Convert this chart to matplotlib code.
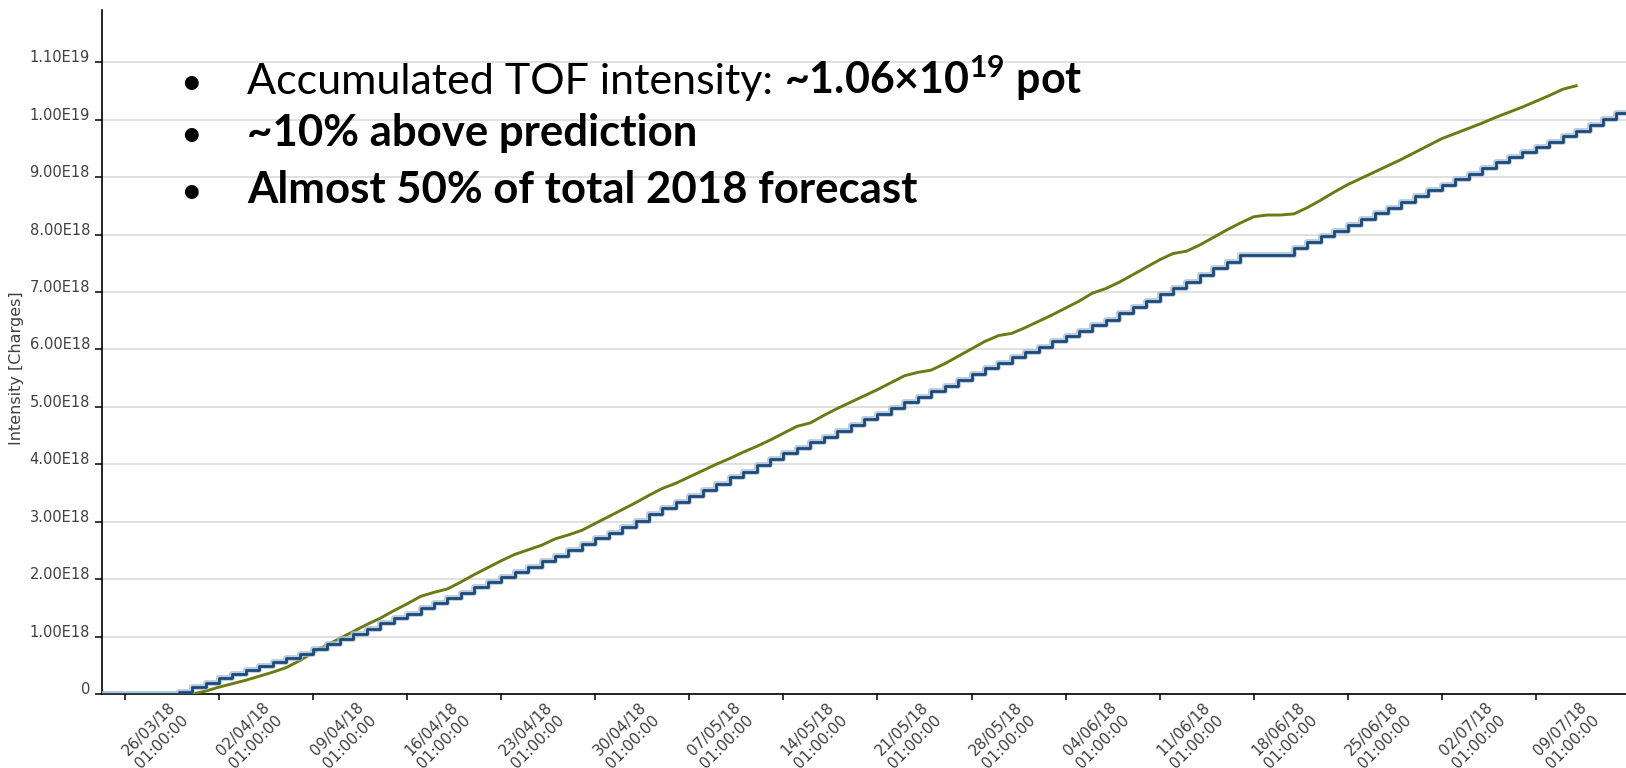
import matplotlib
matplotlib.use("Agg")
import matplotlib.pyplot as plt
import matplotlib.dates as mdates
import matplotlib.transforms as mtransforms
from matplotlib.ticker import MultipleLocator, FuncFormatter
import numpy as np
import pandas as pd
from datetime import datetime, timedelta

# daily values in units of 1E18 charges, first day = 24/03/18
start_day = "2018-03-24 01:00"
predicted = [0, 0, 0, 0, 0, 0, 0.04, 0.12, 0.20, 0.27, 0.34, 0.41, 0.48, 0.55, 0.62,
             0.70, 0.79, 0.87, 0.96, 1.05, 1.14, 1.23, 1.32, 1.40, 1.49, 1.58, 1.67,
             1.76, 1.86, 1.95, 2.04, 2.12, 2.21, 2.31, 2.41, 2.51, 2.61, 2.71, 2.81,
             2.91, 3.02, 3.13, 3.24, 3.35, 3.45, 3.55, 3.66, 3.77, 3.87, 3.98, 4.09,
             4.19, 4.29, 4.38, 4.48, 4.58, 4.68, 4.78, 4.88, 4.98, 5.08, 5.17, 5.27,
             5.37, 5.47, 5.57, 5.67, 5.77, 5.86, 5.95, 6.04, 6.14, 6.23, 6.32, 6.42,
             6.52, 6.63, 6.74, 6.85, 6.96, 7.07, 7.18, 7.30, 7.41, 7.53, 7.64, 7.64,
             7.64, 7.64, 7.77, 7.87, 7.97, 8.07, 8.17, 8.27, 8.37, 8.47, 8.57, 8.67,
             8.77, 8.87, 8.96, 9.06, 9.16, 9.26, 9.35, 9.44, 9.53, 9.62, 9.71, 9.81,
             9.91, 10.01, 10.11, 10.11]
delivered = [0, 0, 0, 0, 0, 0, 0, 0.00, 0.05, 0.12, 0.18, 0.24, 0.31, 0.38, 0.46,
             0.58, 0.72, 0.85, 0.97, 1.09, 1.21, 1.32, 1.45, 1.57, 1.70, 1.77, 1.83,
             1.95, 2.08, 2.20, 2.32, 2.43, 2.51, 2.59, 2.70, 2.77, 2.85, 2.97, 3.09,
             3.21, 3.33, 3.46, 3.58, 3.67, 3.78, 3.89, 4.00, 4.10, 4.21, 4.31, 4.42,
             4.54, 4.66, 4.72, 4.85, 4.97, 5.08, 5.19, 5.30, 5.42, 5.54, 5.60, 5.64,
             5.75, 5.88, 6.01, 6.14, 6.24, 6.28, 6.38, 6.49, 6.60, 6.72, 6.84, 6.98,
             7.06, 7.17, 7.30, 7.43, 7.56, 7.67, 7.71, 7.82, 7.95, 8.08, 8.20, 8.31,
             8.34, 8.34, 8.36, 8.47, 8.60, 8.74, 8.87, 8.98, 9.09, 9.20, 9.31, 9.43,
             9.55, 9.67, 9.76, 9.85, 9.94, 10.04, 10.13, 10.22, 10.32, 10.42, 10.53,
             10.59]

tick_start = datetime(2018, 3, 26, 1, 0)
n_ticks = 16
bullet_lines = ["~10% above prediction", "Almost 50% of total 2018 forecast"]
line1_plain = "Accumulated TOF intensity: "
line1_bold = "~1.06\u00d710$^{\\mathbf{19}}$ pot"

green = "#6b7a12"
blue = "#1c4a78"

plt.rcParams["mathtext.fontset"] = "custom"
plt.rcParams["mathtext.bf"] = "Lato:bold"
plt.rcParams["mathtext.rm"] = "Lato"

fig = plt.figure(figsize=(16.26, 7.68), dpi=100)
ax = fig.add_axes([101.7 / 1626, 74 / 768, 1 - 101.7 / 1626, 684 / 768])

pred_dates = pd.date_range(start_day, periods=len(predicted), freq="D")
deliv_dates = pd.date_range(start_day, periods=len(delivered), freq="D")
pred = np.array(predicted) * 1e18
deliv = np.array(delivered) * 1e18

ax.plot(deliv_dates, deliv, color=green, lw=2.1, zorder=3)
ax.plot(pred_dates, pred, color="#a9bed6", lw=4.2, drawstyle="steps-post", alpha=0.8, zorder=4)
ax.plot(pred_dates, pred, color=blue, lw=2.0, drawstyle="steps-post", zorder=5)

ax.set_xlim(tick_start - timedelta(days=1.734), tick_start + timedelta(days=111.71))
ax.set_ylim(0, 1.191e19)

ticks = [tick_start + timedelta(days=7 * k) for k in range(n_ticks)]
ax.set_xticks(ticks)
ax.xaxis.set_major_formatter(mdates.DateFormatter("%d/%m/%y\n%H:%M:%S"))
ax.yaxis.set_major_locator(MultipleLocator(1e18))


def sci_label(v, pos):
    if v <= 0:
        return "0"
    e = int(np.floor(np.log10(v) + 1e-9))
    return "{0:.2f}E{1}".format(v / 10 ** e, e)


ax.yaxis.set_major_formatter(FuncFormatter(sci_label))

for s in ["top", "right"]:
    ax.spines[s].set_visible(False)
for s in ["left", "bottom"]:
    ax.spines[s].set_linewidth(1.2)
    ax.spines[s].set_color("black")

ax.grid(axis="y", color="#dadada", lw=1.2)
ax.set_axisbelow(True)

ax.tick_params(axis="x", direction="out", length=4.5, width=1.1, pad=0,
               labelsize=11, labelcolor="#404040")
ax.tick_params(axis="y", direction="out", length=5, width=1.1, pad=3.5,
               labelsize=10.5, labelcolor="#404040")
shift = mtransforms.ScaledTranslation(-5 / 100, 1 / 100, fig.dpi_scale_trans)
for lab in ax.get_xticklabels():
    lab.set_rotation(45)
    lab.set_ha("left")
    lab.set_va("top")
    lab.set_multialignment("center")
    lab.set_linespacing(1.25)
    lab.set_transform(lab.get_transform() + shift)
for lab in ax.get_yticklabels():
    lab.set_va("baseline")

fig.text(16 / 1626, 1 - 368 / 768, "Intensity [Charges]", rotation=90,
         ha="center", va="center", fontsize=11.5, color="#404040")

# bullet text
fs = 31
text_x = 247 / 1626
bullet_x = 191 / 1626
baselines = [94, 146, 203]
for yb in baselines:
    fig.text(bullet_x, 1 - yb / 768, "\u2022", family="Lato", fontsize=27,
             ha="center", va="baseline", color="black")
t1 = fig.text(text_x, 1 - baselines[0] / 768, line1_plain, family="Lato",
              fontsize=fs, va="baseline", color="black")
fig.canvas.draw()
bb = t1.get_window_extent().transformed(fig.transFigure.inverted())
fig.text(bb.x1, 1 - baselines[0] / 768, line1_bold, family="Lato", fontsize=fs,
         weight="bold", va="baseline", color="black")
for yb, txt in zip(baselines[1:], bullet_lines):
    fig.text(text_x, 1 - yb / 768, txt, family="Lato", fontsize=fs + 0.5,
             weight="bold", va="baseline", color="black")

fig.savefig("out.png", dpi=100)
